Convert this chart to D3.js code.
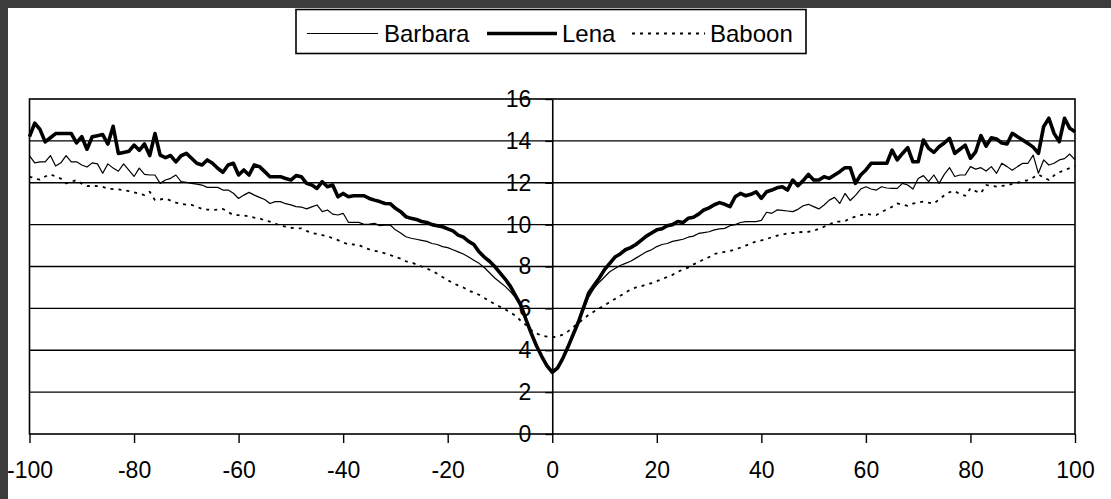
<!DOCTYPE html>
<html>
<head>
<meta charset="utf-8">
<script src="https://cdn.jsdelivr.net/npm/d3@7"></script>
<style>
  html, body { margin: 0; padding: 0; background: #3c3c3c; }
  svg { display: block; font-family: "Liberation Sans", Arial, sans-serif; }
</style>
</head>
<body>
<svg id="chart"></svg>
<script>
// x offsets -100 .. 100, one value per offset
const offsets = d3.range(-100, 101);
const xTicks = [-100, -80, -60, -40, -20, 0, 20, 40, 60, 80, 100];
const yTicks = [0, 2, 4, 6, 8, 10, 12, 14, 16];
const seriesNames = ["Barbara", "Lena", "Baboon"];

// rows of ten: -100..-91, -90..-81, ... then 0, then 1..10 ... 91..100
const barbara = [
  13.3, 12.95, 13.0, 13.0, 13.3, 12.8, 12.95, 13.3, 13.0, 13.0,
  12.85, 12.75, 12.95, 12.9, 12.45, 12.9, 12.7, 12.55, 12.9, 12.6,
  12.3, 12.7, 12.4, 12.37, 12.37, 11.97, 12.13, 12.21, 12.37, 12.05,
  12.02, 11.97, 11.93, 11.89, 11.78, 11.78, 11.78, 11.65, 11.65, 11.5,
  11.25, 11.41, 11.54, 11.41, 11.3, 11.2, 11.01, 11.1, 11.1, 11.0,
  10.94, 10.86, 10.84, 10.75, 10.85, 10.94, 10.62, 10.7, 10.5, 10.46,
  10.54, 10.11, 10.11, 10.11, 10.01, 10.03, 10.06, 9.95, 9.98, 9.98,
  9.75, 9.6, 9.42, 9.35, 9.3, 9.25, 9.2, 9.1, 9.05, 8.95,
  8.9, 8.8, 8.7, 8.6, 8.45, 8.3, 8.15, 7.95, 7.7, 7.45,
  7.25, 7.05, 6.8, 6.5, 6.05, 5.5, 4.85, 4.25, 3.7, 3.3,
  3.0,
  3.2, 3.65, 4.2, 4.8, 5.4, 5.95, 6.55, 6.95, 7.25, 7.5,
  7.75, 7.9, 8.05, 8.15, 8.25, 8.4, 8.55, 8.7, 8.8, 8.95,
  9.05, 9.1, 9.2, 9.25, 9.3, 9.4, 9.45, 9.58, 9.62, 9.66,
  9.75, 9.8, 9.82, 9.95, 10.0, 10.1, 10.14, 10.14, 10.14, 10.2,
  10.59, 10.54, 10.7, 10.68, 10.65, 10.62, 10.73, 10.9, 10.97, 10.86,
  10.75, 10.94, 11.17, 11.3, 11.01, 11.49, 11.15, 11.4, 11.7, 11.81,
  11.7, 11.65, 11.81, 11.75, 11.73, 11.73, 11.97, 11.89, 11.7, 12.2,
  12.34, 12.05, 12.37, 11.97, 12.4, 12.72, 12.3, 12.37, 12.37, 12.77,
  12.65, 12.72, 12.56, 12.77, 12.45, 12.93, 12.77, 12.6, 12.77, 12.93,
  12.93, 13.32, 12.45, 13.09, 12.85, 12.93, 13.09, 13.15, 13.37, 13.09
];

const lena = [
  14.2, 14.85, 14.55, 13.95, 14.15, 14.35, 14.35, 14.35, 14.35, 13.9,
  14.2, 13.6, 14.2, 14.25, 14.3, 13.85, 14.7, 13.4, 13.45, 13.5,
  13.8, 13.55, 13.85, 13.3, 14.35, 13.32, 13.2, 13.3, 13.0, 13.29,
  13.4, 13.17, 12.93, 12.85, 13.09, 12.93, 12.69, 12.5, 12.85, 12.93,
  12.37, 12.61, 12.37, 12.85, 12.77, 12.53, 12.29, 12.29, 12.29, 12.2,
  12.13, 12.34, 12.29, 11.97, 11.89, 11.73, 12.05, 11.81, 11.89, 11.33,
  11.49, 11.33, 11.38, 11.38, 11.38, 11.25, 11.17, 11.1, 11.01, 11.0,
  10.78, 10.62, 10.38, 10.3, 10.25, 10.15, 10.1, 10.0, 9.95, 9.9,
  9.8, 9.7, 9.5, 9.4, 9.2, 9.05, 8.7, 8.45, 8.25, 8.0,
  7.7, 7.4, 7.05, 6.6, 6.15, 5.45, 4.8, 4.2, 3.7, 3.25,
  2.95,
  3.15, 3.6, 4.15, 4.75, 5.35, 6.05, 6.75, 7.1, 7.45, 7.85,
  8.15, 8.45, 8.6, 8.8, 8.9, 9.05, 9.25, 9.45, 9.6, 9.75,
  9.8, 9.95, 10.0, 10.15, 10.1, 10.3, 10.35, 10.5, 10.7, 10.8,
  10.95, 11.05, 10.97, 10.86, 11.33, 11.49, 11.38, 11.45, 11.57, 11.25,
  11.57, 11.65, 11.76, 11.81, 11.65, 12.13, 11.86, 12.1, 12.4, 12.13,
  12.13, 12.29, 12.21, 12.37, 12.53, 12.72, 12.72, 11.97, 12.37, 12.61,
  12.93, 12.93, 12.93, 12.93, 13.56, 13.09, 13.4, 13.68, 13.0, 13.0,
  14.04, 13.64, 13.45, 13.72, 13.9, 14.12, 13.4, 13.6, 13.8, 13.17,
  13.48, 14.25, 13.75, 14.15, 14.09, 13.9, 13.85, 14.36, 14.2, 14.04,
  13.88, 13.7, 13.4, 14.68, 15.08, 14.36, 13.96, 15.08, 14.6, 14.44
];

const baboon = [
  12.3, 12.2, 12.15, 12.3, 12.4, 12.3, 12.2, 11.97, 12.05, 12.13,
  11.95, 11.84, 11.85, 11.84, 11.8, 11.72, 11.7, 11.68, 11.65, 11.6,
  11.54, 11.48, 11.41, 11.57, 11.17, 11.2, 11.25, 11.15, 11.05, 11.0,
  10.95, 10.94, 10.85, 10.75, 10.72, 10.7, 10.72, 10.75, 10.6, 10.46,
  10.45, 10.43, 10.4, 10.33, 10.3, 10.2, 10.14, 10.05, 9.95, 9.9,
  9.85, 9.82, 9.82, 9.7, 9.6, 9.55, 9.5, 9.45, 9.35, 9.26,
  9.15, 9.06, 9.05, 9.03, 8.9, 8.82, 8.75, 8.7, 8.63, 8.55,
  8.45, 8.38, 8.25, 8.2, 8.1, 8.0, 7.9, 7.8, 7.65, 7.5,
  7.35, 7.2, 7.1, 7.0, 6.85, 6.75, 6.65, 6.5, 6.35, 6.2,
  6.08, 5.95, 5.8, 5.65, 5.4, 5.2, 4.95, 4.8, 4.7, 4.65,
  4.62,
  4.65, 4.75, 4.9, 5.1, 5.3, 5.5, 5.7, 5.85, 6.0, 6.15,
  6.3, 6.45, 6.6, 6.75, 6.9, 7.0, 7.05, 7.15, 7.2, 7.3,
  7.4, 7.5, 7.6, 7.75, 7.85, 7.95, 8.1, 8.2, 8.35, 8.45,
  8.6, 8.65, 8.7, 8.74, 8.82, 8.9, 9.0, 9.1, 9.2, 9.25,
  9.31, 9.4, 9.47, 9.52, 9.58, 9.6, 9.63, 9.65, 9.66, 9.7,
  9.8, 9.9, 10.0, 10.14, 10.15, 10.17, 10.3, 10.38, 10.45, 10.51,
  10.48, 10.46, 10.6, 10.73, 10.85, 11.01, 10.95, 10.9, 11.0, 11.05,
  11.1, 11.05, 11.01, 11.2, 11.4, 11.55, 11.6, 11.45, 11.38, 11.73,
  11.6, 11.5, 11.89, 11.86, 11.82, 11.85, 11.88, 11.95, 12.0, 12.05,
  12.13, 12.25, 12.4, 12.25, 12.13, 12.35, 12.5, 12.6, 12.7, 12.8
];

const width = 1111, height = 499;
const plot = {left: 29.5, right: 1075, top: 99, bottom: 434};
const fontSize = 23;

const styles = {
  Barbara: {width: 1.2, dash: null},
  Lena: {width: 3.6, dash: null},
  Baboon: {width: 1.8, dash: "3,5"}
};

const series = [
  {name: "Baboon", values: baboon},
  {name: "Barbara", values: barbara},
  {name: "Lena", values: lena}
];

const svg = d3.select("#chart")
  .attr("width", width)
  .attr("height", height);

svg.append("rect")
  .attr("width", width)
  .attr("height", height)
  .attr("fill", "#fff");

const x = d3.scaleLinear()
  .domain([-100, 100])
  .range([plot.left, plot.right]);

const y = d3.scaleLinear()
  .domain([0, 16])
  .range([plot.bottom, plot.top]);

// plain hyphen for negatives, like the original
const plain = d => String(d);

// horizontal gridlines
svg.append("g")
  .selectAll("line")
  .data(yTicks.filter(d => d > 0 && d < 16))
  .join("line")
    .attr("x1", plot.left)
    .attr("x2", plot.right)
    .attr("y1", d => y(d))
    .attr("y2", d => y(d))
    .attr("stroke", "#000")
    .attr("stroke-width", 1.4);

// x axis along the bottom
svg.append("g")
  .attr("transform", `translate(0,${plot.bottom})`)
  .call(d3.axisBottom(x).tickValues(xTicks).tickFormat(plain).tickSize(9).tickPadding(19).tickSizeOuter(0))
  .call(g => g.select(".domain").remove())
  .call(g => g.selectAll("line").attr("stroke", "#000").attr("stroke-width", 1.4))
  .call(g => g.selectAll("text")
    .attr("fill", "#000")
    .attr("font-size", fontSize)
    .attr("font-family", "Liberation Sans, Arial, sans-serif"));

// series lines
const line = d3.line()
  .x((d, i) => x(offsets[i]))
  .y(d => y(d));

svg.append("g")
  .attr("fill", "none")
  .attr("stroke", "#000")
  .attr("stroke-linejoin", "round")
  .selectAll("path")
  .data(series)
  .join("path")
    .attr("stroke-width", d => styles[d.name].width)
    .attr("stroke-dasharray", d => styles[d.name].dash)
    .attr("d", d => line(d.values));

// y axis through x = 0
svg.append("g")
  .attr("transform", `translate(${x(0)},0)`)
  .call(d3.axisLeft(y).tickValues(yTicks).tickFormat(plain).tickSize(7).tickPadding(14).tickSizeOuter(0))
  .call(g => g.select(".domain").attr("stroke", "#000").attr("stroke-width", 1.6))
  .call(g => g.selectAll("line").attr("stroke", "#000").attr("stroke-width", 1.4))
  .call(g => g.selectAll("text")
    .attr("fill", "#000")
    .attr("font-size", fontSize)
    .attr("font-family", "Liberation Sans, Arial, sans-serif"));

// plot frame
svg.append("rect")
  .attr("x", plot.left)
  .attr("y", plot.top)
  .attr("width", plot.right - plot.left)
  .attr("height", plot.bottom - plot.top)
  .attr("fill", "none")
  .attr("stroke", "#000")
  .attr("stroke-width", 1.6);

// legend
const legend = svg.append("g");
legend.append("rect")
  .attr("x", 296)
  .attr("y", 9.5)
  .attr("width", 510)
  .attr("height", 44)
  .attr("fill", "#fff")
  .attr("stroke", "#000")
  .attr("stroke-width", 1.6);

const legendPos = [
  {name: "Barbara", x1: 307, x2: 378, tx: 384},
  {name: "Lena", x1: 487, x2: 557, tx: 562},
  {name: "Baboon", x1: 632, x2: 705, tx: 710}
];

const item = legend.selectAll("g.item")
  .data(legendPos)
  .join("g")
    .attr("class", "item");

item.append("line")
  .attr("x1", d => d.x1)
  .attr("x2", d => d.x2)
  .attr("y1", 33.5)
  .attr("y2", 33.5)
  .attr("stroke", "#000")
  .attr("stroke-width", d => styles[d.name].width)
  .attr("stroke-dasharray", d => styles[d.name].dash);

item.append("text")
  .attr("x", d => d.tx)
  .attr("y", 33.5)
  .attr("dy", "0.35em")
  .attr("font-size", 24)
  .attr("fill", "#000")
  .text(d => d.name);

// dark frame on top and left
svg.append("rect").attr("width", width).attr("height", 8).attr("fill", "#3c3c3c");
svg.append("rect").attr("width", 8).attr("height", height).attr("fill", "#3c3c3c");
</script>
</body>
</html>
